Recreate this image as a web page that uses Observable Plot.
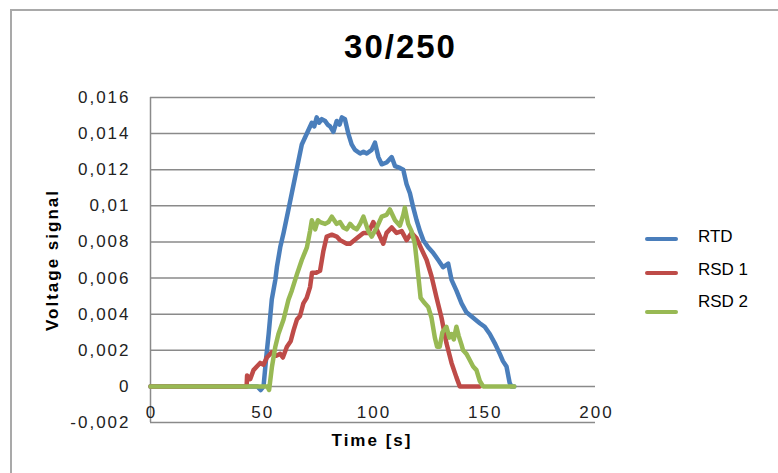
<!DOCTYPE html>
<html>
<head>
<meta charset="utf-8">
<script src="https://cdn.jsdelivr.net/npm/d3@7"></script>
<script src="https://cdn.jsdelivr.net/npm/@observablehq/plot@0.6"></script>
<style>
  html, body { margin: 0; padding: 0; background: #fff; }
  #wrap { position: relative; width: 778px; height: 473px; overflow: hidden; font-family: Arial, "Liberation Sans", sans-serif; }
  #frame { position: absolute; left: 10px; top: 9px; width: 800px; height: 500px; border-top: 2px solid #a9a9a9; border-left: 2px solid #a9a9a9; pointer-events: none; }
  #legend { position: absolute; left: 645px; top: 0; font-size: 17px; color: #000; }
  .sw { position: absolute; left: 0; width: 33px; height: 4px; border-radius: 2px; }
  .lt { position: absolute; left: 53px; white-space: nowrap; line-height: 1; }
  svg { position: absolute; left: 0; top: 0; }
</style>
</head>
<body>
<div id="wrap">
  <div id="chart"></div>
  <div id="frame"></div>
  <div id="legend"></div>
</div>
<script>
const title = "30/250";
const xLabel = "Time [s]";
const yLabel = "Voltage signal";
const seriesNames = ["RTD", "RSD 1", "RSD 2"];
const seriesColors = ["#4a7ebb", "#be4b48", "#98b954"];
const xTicks = [0, 50, 100, 150, 200];
const yTicks = [-0.002, 0, 0.002, 0.004, 0.006, 0.008, 0.01, 0.012, 0.014, 0.016];

// [time (s), voltage]
const rtd = [[0,0],[48,0],[49.5,-0.0002],[50.8,0.0000],[52,0.0016],[53.1,0.0029],[54.5,0.0048],[56.1,0.0059],[56.8,0.0066],[58.3,0.0077],[59.8,0.0085],[62.0,0.0098],[63.5,0.0107],[65.0,0.0116],[66.5,0.0125],[68.0,0.0134],[69.5,0.0138],[71.0,0.0142],[72.5,0.0146],[73.6,0.0144],[74.7,0.0149],[75.8,0.0146],[77.0,0.0148],[78.5,0.0147],[79.6,0.0145],[80.7,0.0144],[82.2,0.0141],[83.7,0.0147],[85.0,0.0145],[86.0,0.0149],[87.4,0.0148],[88.9,0.0140],[90.4,0.0134],[91.9,0.0131],[94.2,0.0129],[95.7,0.0130],[97.2,0.0129],[99.4,0.0131],[100.9,0.0135],[102.4,0.0127],[103.9,0.0123],[106.1,0.0124],[108.4,0.0127],[109.9,0.0122],[112.1,0.0121],[113.6,0.0120],[115.1,0.0112],[116.6,0.0107],[118.1,0.0099],[119.6,0.0092],[121.1,0.0086],[122.6,0.0081],[124.8,0.0077],[127.0,0.0074],[129.3,0.0070],[131.5,0.0066],[133.8,0.0068],[135.3,0.0059],[137.5,0.0053],[139.8,0.0046],[142.0,0.0041],[145.0,0.0038],[148.0,0.0035],[150.2,0.0033],[152.5,0.0029],[154.7,0.0024],[157.0,0.0018],[158.4,0.0014],[160.0,0.0011],[161.4,0.0002],[162.2,0],[163.5,0]];
const rsd1 = [[0,0],[43.2,0],[43.4,0.0006],[44.8,0.0004],[46.3,0.0009],[47.8,0.0011],[49.3,0.0013],[50.8,0.0012],[52.3,0.0016],[54.6,0.0019],[56.5,0.0017],[58.3,0.0018],[59.5,0.0016],[61.3,0.0022],[63,0.0025],[64.3,0.0031],[65.8,0.0037],[67.2,0.0039],[68.7,0.0046],[70.2,0.0049],[71.7,0.0055],[72.6,0.0063],[74.5,0.0063],[76.2,0.0064],[77.7,0.0075],[79.2,0.0083],[81.5,0.0084],[83.7,0.0083],[85.2,0.0081],[88.2,0.0079],[89.7,0.0079],[92.7,0.0082],[95.7,0.0085],[97.9,0.0085],[100.1,0.0091],[102.4,0.0085],[104.6,0.0079],[106.1,0.0085],[108.4,0.0088],[110.6,0.0085],[112.9,0.0086],[115.1,0.0081],[117.3,0.0085],[119.6,0.0082],[121.8,0.0076],[124.1,0.0070],[126.3,0.0061],[128.6,0.0049],[130.8,0.0038],[133.0,0.0024],[135.3,0.0013],[137.5,0.0005],[139.0,0],[148,0]];
const rsd2 = [[0,0],[52.5,0],[53.3,-0.0002],[54.6,0.0011],[56.1,0.0022],[57.5,0.0029],[59.8,0.0037],[62.0,0.0048],[63.5,0.0053],[65.8,0.0062],[68.0,0.0070],[70.3,0.0077],[71.7,0.0086],[72.5,0.0092],[74.0,0.0087],[75.2,0.0092],[76.2,0.0091],[78.5,0.0090],[80,0.0091],[81.5,0.0094],[83.7,0.0090],[85.2,0.0091],[86.7,0.0088],[88.2,0.0087],[89.7,0.0090],[91.2,0.0088],[92.7,0.0087],[94.2,0.0090],[95.7,0.0094],[97.9,0.0086],[99.4,0.0083],[101.7,0.0088],[103.9,0.0094],[106.1,0.0095],[107.6,0.0098],[109.9,0.0092],[112.1,0.0089],[113.6,0.0095],[114.3,0.0099],[115.8,0.0090],[117.3,0.0086],[118.8,0.0079],[120.3,0.0062],[121.4,0.0049],[123.3,0.0046],[124.8,0.0044],[126.3,0.0038],[127.8,0.0027],[128.8,0.0022],[130.0,0.0022],[131.2,0.0030],[133.0,0.0033],[134.3,0.0027],[135.3,0.0029],[136.3,0.0026],[137.5,0.0033],[138.5,0.0028],[139.8,0.0023],[140.5,0.0020],[142.0,0.0018],[143.3,0.0015],[145.0,0.0011],[146.5,0.0009],[148.0,0.0003],[149.5,0],[163.5,0]];

const data = [];
[rtd, rsd1, rsd2].forEach((s, i) => s.forEach(([t, v]) => data.push({series: seriesNames[i], t, v})));

const fmt = d => d === 0 ? "0" : String(+d.toFixed(3)).replace(".", ",");
const font = 'Arial, "Liberation Sans", sans-serif';

const chart = Plot.plot({
  width: 778,
  height: 473,
  marginLeft: 150,
  marginRight: 183,
  marginTop: 97,
  marginBottom: 51,
  style: {fontFamily: font, background: "transparent"},
  x: {domain: [0, 200], axis: null},
  y: {domain: [-0.002, 0.016], axis: null},
  color: {domain: seriesNames, range: seriesColors},
  marks: [
    Plot.ruleY(yTicks, {stroke: "#8a8a8a", strokeWidth: 1.5}),
    Plot.ruleX([0], {stroke: "#8a8a8a", strokeWidth: 1.5}),
    Plot.line(data, {x: "t", y: "v", z: "series", stroke: "series", strokeWidth: 4.5, strokeLinejoin: "round", strokeLinecap: "round"}),
    Plot.text(yTicks, {y: d => d, frameAnchor: "left", text: fmt, textAnchor: "end", dx: -20, fontSize: 17, fill: "#222", className: "tick"}),
    Plot.text(xTicks, {x: d => d, frameAnchor: "bottom", text: d => String(d), dy: -10, dx: 1, lineAnchor: "middle", textAnchor: "middle", fontSize: 17, fill: "#222", className: "tick"}),
    Plot.text([yLabel], {frameAnchor: "left", text: d => d, rotate: -90, dx: -98, textAnchor: "middle", lineAnchor: "middle", fontSize: 17, fontWeight: "bold", fill: "#000", className: "atitle"}),
    Plot.text([xLabel], {frameAnchor: "bottom", text: d => d, dy: 18, dx: -1, lineAnchor: "middle", textAnchor: "middle", fontSize: 17, fontWeight: "bold", fill: "#000", className: "atitle"}),
    Plot.text([title], {frameAnchor: "top", text: d => d, dx: 27.5, dy: -50, lineAnchor: "middle", textAnchor: "middle", fontSize: 33, fontWeight: "bold", fill: "#000", className: "ctitle"})
  ]
});
document.getElementById("chart").appendChild(chart);

const st = document.createElement("style");
st.textContent = `.tick text { letter-spacing: 2px; } .atitle text { letter-spacing: 2px; } .ctitle text { letter-spacing: 2px; }`;
document.head.appendChild(st);

const legend = document.getElementById("legend");
const lineY = [239, 273, 312];
const textY = [237, 270, 302];
seriesNames.forEach((n, i) => {
  const sw = document.createElement("div");
  sw.className = "sw";
  sw.style.top = (lineY[i] - 2) + "px";
  sw.style.background = seriesColors[i];
  legend.appendChild(sw);
  const t = document.createElement("div");
  t.className = "lt";
  t.style.top = (textY[i] - 9) + "px";
  t.textContent = n;
  legend.appendChild(t);
});
</script>
</body>
</html>
